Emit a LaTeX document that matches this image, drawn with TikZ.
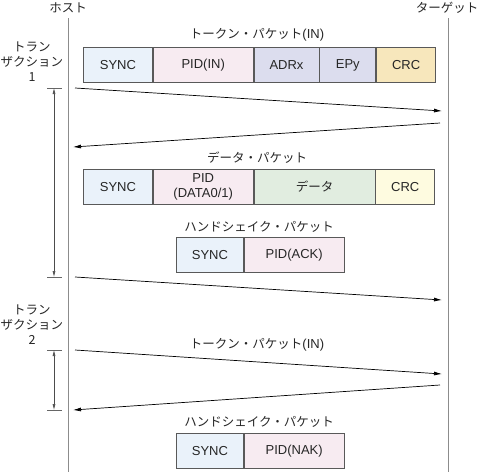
\documentclass[tikz,border=0pt]{standalone}
\usepackage{fontspec}
\setmainfont{Liberation Sans}
\newfontfamily\jp{Noto Sans CJK JP}
\usetikzlibrary{positioning,arrows.meta}

\definecolor{syncblue}{HTML}{EAF2FA}
\definecolor{pidpink}{HTML}{F7EBF1}
\definecolor{addrlav}{HTML}{DCDDEE}
\definecolor{crcgold}{HTML}{F7E7BC}
\definecolor{datagreen}{HTML}{E1EDE0}
\definecolor{crccream}{HTML}{FEFBE0}

\begin{document}
\begin{tikzpicture}[x=1pt,y=-1pt,
  lifeline/.style={draw=black!45,line width=0.8pt},
  cell/.style={draw=black!65,line width=0.8pt,minimum height=35pt,inner sep=0pt,
    text=black!85,font=\fontsize{13}{15}\selectfont},
  jptext/.style={text=black!85,font=\jp\fontsize{12.5}{15}\selectfont},
  msg/.style={-{Latex[length=8pt,width=4pt]},line width=0.7pt},
  span/.style={{Latex[length=6pt,width=3pt]}-{Latex[length=6pt,width=3pt]},
    draw=black!70,line width=0.6pt},
  tickline/.style={draw=black!60,line width=0.6pt}]
  \useasboundingbox (0,0) rectangle (480,472);

  % ホストとターゲット
  \node[jptext] (host) at (68,8) {ホスト};
  \node[jptext] (target) at (447,8) {ターゲット};
  \coordinate (hostTop) at (68,18);
  \coordinate (hostEnd) at (68,472);
  \coordinate (targetTop) at (448,18);
  \coordinate (targetEnd) at (448,472);
  \draw[lifeline] (hostTop) -- (hostEnd);
  \draw[lifeline] (targetTop) -- (targetEnd);

  % トランザクション1
  \node[jptext,align=center] (trans1) at (32,62) {トラン\\ザクション\\1};
  \coordinate (span1a) at (54,88);
  \coordinate (span1b) at (54,277);
  \draw[tickline] ([xshift=-7pt]span1a) -- ([xshift=8pt]span1a);
  \draw[tickline] ([xshift=-7pt]span1b) -- ([xshift=8pt]span1b);
  \draw[span] (span1a) -- (span1b);

  % トークン・パケット(IN)
  \node[jptext] (tokenTitle) at (257,35) {トークン・パケット{\rmfamily\fontsize{13}{15}\selectfont(IN)}};
  \node[cell,fill=syncblue,minimum width=69pt,anchor=north west] (tokSync) at (83,47) {SYNC};
  \node[cell,fill=pidpink,minimum width=100pt,right=0pt of tokSync] (tokPid) {PID(IN)};
  \node[cell,fill=addrlav,minimum width=65pt,right=0pt of tokPid] (tokAdr) {ADRx};
  \node[cell,fill=addrlav,minimum width=56pt,right=0pt of tokAdr] (tokEp) {EPy};
  \node[cell,fill=crcgold,minimum width=59pt,right=0pt of tokEp] (tokCrc) {CRC};

  \coordinate (m1s) at (75,88);
  \coordinate (m1e) at (442,111);
  \draw[msg] (m1s) -- (m1e);
  \coordinate (m2s) at (440,123);
  \coordinate (m2e) at (73,147);
  \draw[msg] (m2s) -- (m2e);

  % データ・パケット
  \node[jptext] (dataTitle) at (257,158) {データ・パケット};
  \node[cell,fill=syncblue,minimum width=69pt,anchor=north west] (datSync) at (83,169) {SYNC};
  \node[cell,fill=pidpink,minimum width=100pt,align=center,right=0pt of datSync,
    font=\fontsize{13}{15}\selectfont] (datPid) {PID\\(DATA0/1)};
  \node[cell,fill=datagreen,minimum width=121pt,right=0pt of datPid,font=\jp\fontsize{12.5}{15}\selectfont] (datBody) {データ};
  \node[cell,fill=crccream,minimum width=59pt,right=0pt of datBody] (datCrc) {CRC};

  % ハンドシェイク・パケット
  \node[jptext] (ackTitle) at (259,227) {ハンドシェイク・パケット};
  \node[cell,fill=syncblue,minimum width=67pt,anchor=north west] (ackSync) at (176,237) {SYNC};
  \node[cell,fill=pidpink,minimum width=100pt,right=0pt of ackSync] (ackPid) {PID(ACK)};

  \coordinate (m3s) at (75,277);
  \coordinate (m3e) at (442,300);
  \draw[msg] (m3s) -- (m3e);

  % トランザクション2
  \node[jptext,align=center] (trans2) at (32,325) {トラン\\ザクション\\2};
  \coordinate (span2a) at (54,350);
  \coordinate (span2b) at (54,410);
  \draw[tickline] ([xshift=-7pt]span2a) -- ([xshift=8pt]span2a);
  \draw[tickline] ([xshift=-7pt]span2b) -- ([xshift=8pt]span2b);
  \draw[span] (span2a) -- (span2b);

  \node[jptext] (token2Title) at (257,345) {トークン・パケット{\rmfamily\fontsize{13}{15}\selectfont(IN)}};
  \coordinate (m4s) at (75,350);
  \coordinate (m4e) at (442,374);
  \draw[msg] (m4s) -- (m4e);
  \coordinate (m5s) at (440,385);
  \coordinate (m5e) at (73,410);
  \draw[msg] (m5s) -- (m5e);

  % ハンドシェイク・パケット(NAK)
  \node[jptext] (nakTitle) at (259,422) {ハンドシェイク・パケット};
  \node[cell,fill=syncblue,minimum width=67pt,anchor=north west] (nakSync) at (176,433) {SYNC};
  \node[cell,fill=pidpink,minimum width=100pt,right=0pt of nakSync] (nakPid) {PID(NAK)};
\end{tikzpicture}
\end{document}
